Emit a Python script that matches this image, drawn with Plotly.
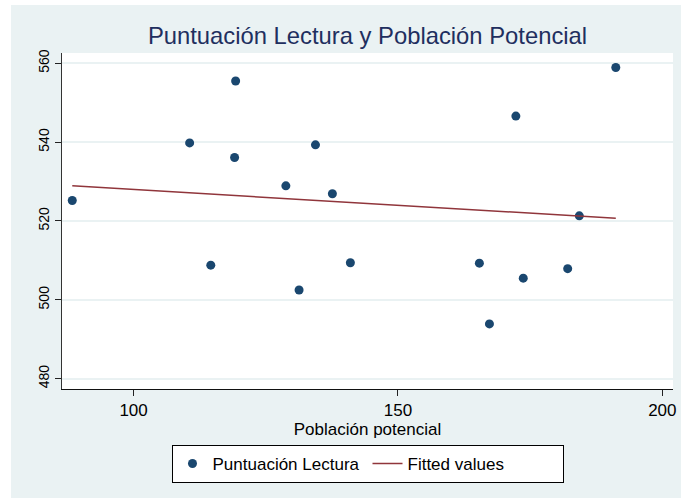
import plotly.graph_objects as go

# Data
poblacion = [88.4, 110.6, 114.6, 119.3, 119.1, 128.8, 131.3, 134.4, 137.6,
             141.0, 165.4, 167.3, 172.3, 173.7, 182.1, 184.3, 191.2]
lectura = [525.2, 539.8, 508.8, 555.5, 536.1, 528.9, 502.5, 539.3, 526.9,
           509.4, 509.3, 493.9, 546.6, 505.5, 507.9, 521.3, 558.9]
fit_x = [88.4, 191.2]
fit_y = [528.9, 520.7]

x_ticks = [100, 150, 200]
y_ticks = [480, 500, 520, 540, 560]

FONT = "Liberation Sans, Arial, Helvetica, sans-serif"
BG = "#eaf2f3"

W, H = 681, 498
L, R, T, B = 62, 8, 53, 109
PW, PH = W - L - R, H - T - B

fig = go.Figure()
fig.add_trace(go.Scatter(
    x=poblacion, y=lectura, mode="markers", name="Puntuación Lectura",
    marker=dict(color="#1a476f", size=9),
))
fig.add_trace(go.Scatter(
    x=fit_x, y=fit_y, mode="lines", name="Fitted values",
    line=dict(color="#90353b", width=1.5),
))

fig.update_layout(
    template="none",
    width=W, height=H,
    margin=dict(l=L, r=R, t=T, b=B, autoexpand=False),
    paper_bgcolor="white",
    plot_bgcolor="white",
    font=dict(family=FONT, color="black"),
    title=dict(
        text="Puntuación Lectura y Población Potencial",
        font=dict(size=23.8, color="#1f2f5f", family=FONT),
        x=(L + L + PW) / 2 / W, xanchor="center",
        y=1 - 36 / H, yanchor="middle", yref="container",
    ),
    xaxis=dict(
        range=[86.46, 202.02],
        tickvals=x_ticks,
        ticks="outside", ticklen=6, tickcolor="#222",
        tickfont=dict(size=17, family=FONT),
        showgrid=False, zeroline=False, automargin=False,
        showline=True, linecolor="#111", linewidth=1,
        title=dict(text="Población potencial", font=dict(size=17, family=FONT), standoff=0),
    ),
    yaxis=dict(
        range=[477.39, 562.59],
        tickvals=y_ticks,
        ticks="outside", ticklen=6, tickcolor="#222",
        tickangle=-90,
        tickfont=dict(size=14, family=FONT),
        showgrid=True, gridcolor=BG, gridwidth=1.5,
        zeroline=False, automargin=False,
        showline=True, linecolor="#333", linewidth=1,
    ),
    legend=dict(
        orientation="h",
        x=0.5, xanchor="center",
        y=-56 / PH, yanchor="top",
        bgcolor="white", bordercolor="black", borderwidth=1,
        font=dict(size=17, family=FONT),
        traceorder="normal",
        entrywidth=150,
    ),
    shapes=[
        dict(type="rect", xref="paper", yref="paper", layer="below",
             x0=(11 - L) / PW, x1=(W + 5 - L) / PW,
             y0=-(B + 5) / PH, y1=(T - 5) / PH + 1,
             fillcolor=BG, line=dict(width=0)),
        dict(type="rect", xref="paper", yref="paper", layer="below",
             x0=0, x1=1, y0=0, y1=1,
             fillcolor="white", line=dict(width=0)),
    ],
)

# Remove the default 8px page margin so the figure fills the 681x498 window.
fig.write_html(
    "out.html",
    config={"displayModeBar": False},
    post_script="document.body.style.margin='0';document.body.style.overflow='hidden';",
)
